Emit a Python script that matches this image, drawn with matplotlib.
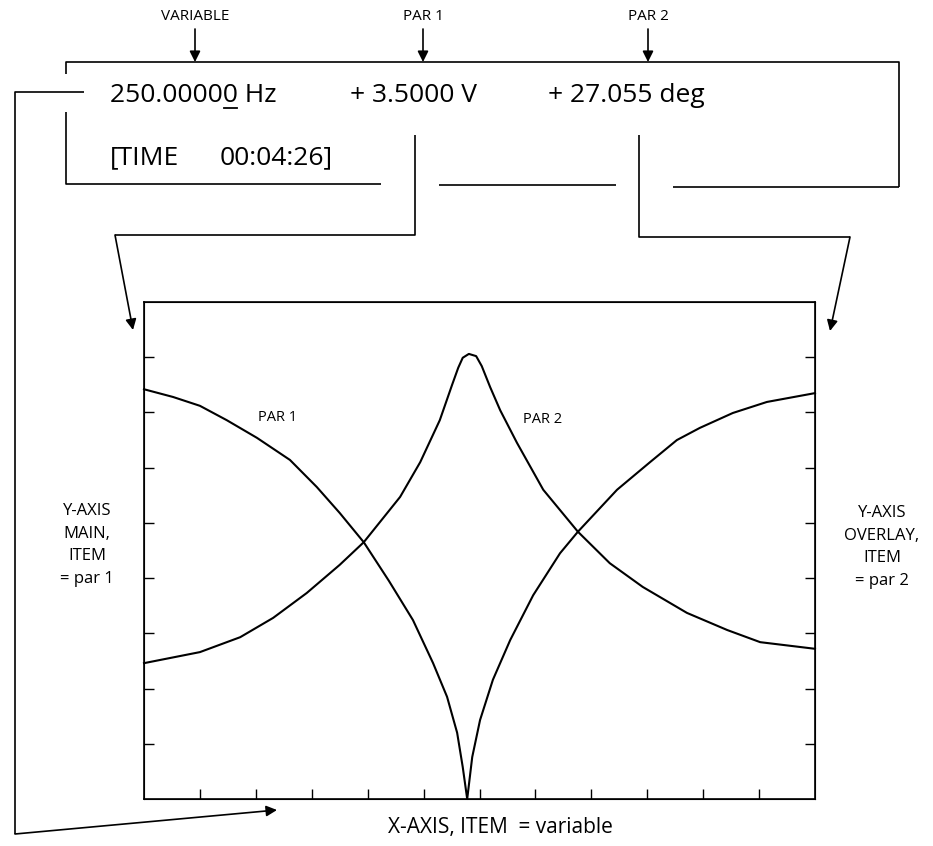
import matplotlib.pyplot as plt
import numpy as np

plt.rcParams['font.family'] = ['Open Sans', 'DejaVu Sans']

# curves (x in tick divisions 0..12, y in divisions 0..9)
par1_x = [0.00, 0.52, 1.00, 1.48, 2.02, 2.61, 3.09, 3.50, 3.93, 4.38, 4.81, 5.17, 5.42, 5.60, 5.70,
          5.78, 5.87, 6.01, 6.24, 6.55, 6.96, 7.44, 7.76, 8.46, 9.05, 9.53, 9.94, 10.53, 11.14, 12.00]
par1_y = [7.42, 7.28, 7.12, 6.86, 6.54, 6.14, 5.65, 5.18, 4.65, 3.95, 3.24, 2.46, 1.85, 1.20, 0.58,
          0.00, 0.76, 1.43, 2.16, 2.88, 3.69, 4.45, 4.84, 5.60, 6.10, 6.50, 6.72, 6.99, 7.19, 7.35]

par2_x = [0.00, 1.00, 1.72, 2.31, 2.91, 3.50, 3.93, 4.58, 4.94, 5.29, 5.51, 5.62, 5.70, 5.81,
          5.94, 6.04, 6.19, 6.37, 6.67, 7.14, 7.76, 8.33, 8.92, 9.71, 10.43, 11.02, 12.00]
par2_y = [2.46, 2.66, 2.93, 3.28, 3.73, 4.24, 4.65, 5.47, 6.10, 6.86, 7.50, 7.81, 7.99, 8.06,
          8.02, 7.84, 7.46, 7.04, 6.45, 5.60, 4.84, 4.27, 3.84, 3.37, 3.06, 2.84, 2.72]

x_ticks = np.arange(1, 12)
y_ticks = np.arange(1, 9)

freq_text = '250.00000 Hz'
par1_text = '+ 3.5000 V'
par2_text = '+ 27.055 deg'

W, H = 933, 846
fig = plt.figure(figsize=(W / 100, H / 100), dpi=100)

# main plot box
ax = fig.add_axes([144 / W, 1 - 799 / H, (815 - 144) / W, (799 - 302) / H])
ax.plot(par1_x, par1_y, color='black', lw=1.5, clip_on=False, solid_joinstyle='round')
ax.set_xlim(0, 12)
ax.set_ylim(0, 9)
ax.set_xticks(x_ticks)
ax.set_yticks(y_ticks)
ax.tick_params(direction='in', length=7, width=1, labelleft=False, labelbottom=False)
for s in ax.spines.values():
    s.set_linewidth(1.2)

ax2 = ax.twinx()
ax2.plot(par2_x, par2_y, color='black', lw=1.5, clip_on=False, solid_joinstyle='round')
ax2.set_ylim(0, 9)
ax2.set_yticks(y_ticks)
ax2.tick_params(direction='in', length=7, width=1, labelright=False)

ax.text(2.38, 6.90, 'PAR 1', fontsize=10.5, ha='center', va='center')
ax.text(7.12, 6.88, 'PAR 2', fontsize=10.5, ha='center', va='center')

# overlay in pixel coordinates for the display diagram
ov = fig.add_axes([0, 0, 1, 1])
ov.set_xlim(0, W)
ov.set_ylim(H, 0)
ov.axis('off')

lw = 1.2
kw = dict(color='black', lw=lw, solid_capstyle='butt')

# display frame
ov.plot([66, 66, 899, 899], [74, 62, 62, 187], **kw)
ov.plot([66, 66, 381], [112, 184, 184], **kw)
ov.plot([439, 616], [185, 185], **kw)
ov.plot([673, 899], [187, 187], **kw)

arrow = dict(arrowstyle='-|>', color='black', lw=lw, mutation_scale=16, shrinkA=0, shrinkB=0)

# top pointers
for x, lab in zip([195, 423, 648], ['VARIABLE', 'PAR 1', 'PAR 2']):
    ov.text(x, 17, lab, fontsize=11, ha='center', va='center')
    ov.annotate('', xy=(x, 62), xytext=(x, 29), arrowprops=arrow)

# variable -> x axis
ov.plot([84, 15, 15], [92, 92, 834], **kw)
ov.annotate('', xy=(277, 810), xytext=(15, 834), arrowprops=arrow)

# par 1 -> main y axis
ov.plot([415, 415, 115], [135, 235, 235], **kw)
ov.annotate('', xy=(133, 330), xytext=(115, 235), arrowprops=arrow)

# par 2 -> overlay y axis
ov.plot([639, 639, 850], [135, 237, 237], **kw)
ov.annotate('', xy=(830, 331), xytext=(850, 237), arrowprops=arrow)

# readout line
fs = 19
ov.text(110, 102, freq_text, fontsize=fs, ha='left', va='baseline')
ov.text(350, 102, par1_text, fontsize=fs, ha='left', va='baseline')
ov.text(548, 102, par2_text, fontsize=fs, ha='left', va='baseline')
ov.text(110, 164, '[TIME', fontsize=fs, ha='left', va='baseline')
ov.text(220, 164, '00:04:26]', fontsize=fs, ha='left', va='baseline')

# underline the last digit of the frequency (cursor)
fig.canvas.draw()
r = fig.canvas.get_renderer()
inv = ov.transData.inverted()
a = ov.text(110, 102, freq_text[:8], fontsize=fs, ha='left', va='baseline')
b = ov.text(110, 102, freq_text[:9], fontsize=fs, ha='left', va='baseline')
xa = inv.transform(a.get_window_extent(r))[1][0]
xb = inv.transform(b.get_window_extent(r))[1][0]
a.remove()
b.remove()
ov.plot([xa + 1, xb - 1], [108, 108], color='black', lw=1.3)

# axis descriptions
ov.text(87, 545, 'Y-AXIS\nMAIN,\nITEM\n= par 1', fontsize=12, ha='center', va='center',
        linespacing=1.55)
ov.text(882, 547, 'Y-AXIS\nOVERLAY,\nITEM\n= par 2', fontsize=12, ha='center', va='center',
        linespacing=1.55)
ov.text(500, 827, 'X-AXIS, ITEM  = variable', fontsize=15, ha='center', va='center')

fig.savefig('out.png', dpi=100)
